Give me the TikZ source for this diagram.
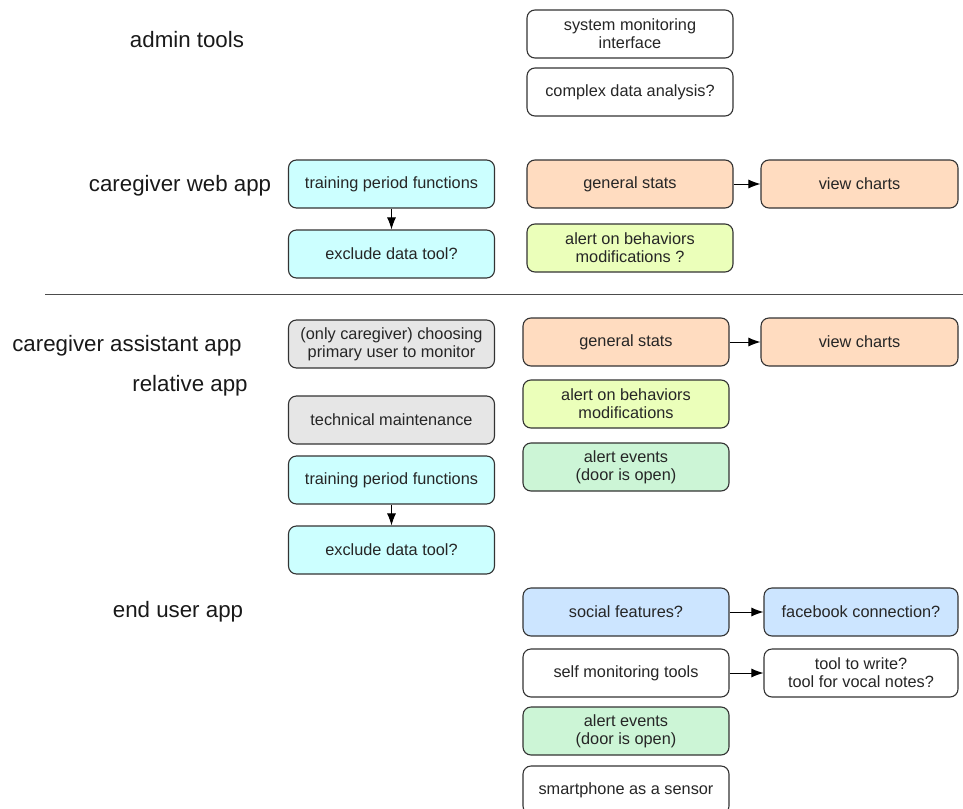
\documentclass[tikz,border=0pt]{standalone}
\usepackage{fontspec}
\setmainfont{Liberation Sans}
\usetikzlibrary{arrows.meta}
\definecolor{cyanf}{HTML}{CCFFFF}
\definecolor{orangef}{HTML}{FFDCC0}
\definecolor{limef}{HTML}{EBFFBA}
\definecolor{greenf}{HTML}{CCF5D6}
\definecolor{bluef}{HTML}{CCE5FF}
\definecolor{grayf}{HTML}{E6E6E6}
\definecolor{edgec}{HTML}{333333}
\begin{document}
\begin{tikzpicture}[x=1pt,y=-1pt,
  box/.style={draw=edgec,line width=1.1pt,rounded corners=8pt,align=center,
    font=\fontsize{16.3}{18}\selectfont,text=black!85,inner sep=0pt,
    minimum height=48pt},
  wl/.style={box,minimum width=206pt},
  wr/.style={box,minimum width=197pt},
  lab/.style={font=\fontsize{22.3}{25}\selectfont,text=black!90},
  arr/.style={-{Latex[length=12pt,width=9pt]},line width=1pt,draw=black}]
\useasboundingbox (0,0) rectangle (963,808);
\begin{scope}
\clip (0,0) rectangle (963,808);
% labels
\node[lab] (l1) at (187,40) {admin tools};
\node[lab] (l2) at (180,186) {caregiver web app};
\node[lab] (l3) at (127,346) {caregiver assistant app};
\node[lab] (l4) at (190,386) {relative app};
\node[lab] (l5) at (178,612) {end user app};
% separator
\coordinate (s1) at (45,294);
\coordinate (s2) at (963,294);
\draw[line width=1pt,draw=black!70] (s1) -- (s2);
% admin
\node[wl,fill=white] (a1) at (630,34) {system monitoring\\interface};
\node[wl,fill=white] (a2) at (630,92) {complex data analysis?};
% caregiver web
\node[wl,fill=cyanf] (w1) at (391.5,184) {training period functions};
\node[wl,fill=cyanf] (w2) at (391.5,254) {exclude data tool?};
\node[wl,fill=orangef] (w3) at (630,184) {general stats};
\node[wr,fill=orangef] (w4) at (859.5,184) {view charts};
\node[wl,fill=limef] (w5) at (630,248) {alert on behaviors\\modifications ?};
\draw[arr] (w1) -- (w2);
\draw[arr] (w3) -- (w4);
% caregiver assistant
\node[wl,fill=grayf] (c1) at (391.5,344) {(only caregiver) choosing\\primary user to monitor};
\node[wl,fill=grayf] (c2) at (391.5,420) {technical maintenance};
\node[wl,fill=cyanf] (c3) at (391.5,480) {training period functions};
\node[wl,fill=cyanf] (c4) at (391.5,550) {exclude data tool?};
\node[wl,fill=orangef] (c5) at (626,342) {general stats};
\node[wr,fill=orangef] (c6) at (859.5,342) {view charts};
\node[wl,fill=limef] (c7) at (626,404) {alert on behaviors\\modifications};
\node[wl,fill=greenf] (c8) at (626,467) {alert events\\(door is open)};
\draw[arr] (c3) -- (c4);
\draw[arr] (c5) -- (c6);
% end user
\node[wl,fill=bluef] (e1) at (626,612) {social features?};
\node[box,minimum width=194pt,fill=bluef] (e2) at (861,612) {facebook connection?};
\node[wl,fill=white] (e3) at (626,673) {self monitoring tools};
\node[box,minimum width=194pt,fill=white] (e4) at (861,673) {tool to write?\\tool for vocal notes?};
\node[wl,fill=greenf] (e5) at (626,731) {alert events\\(door is open)};
\node[wl,fill=white] (e6) at (626,790) {smartphone as a sensor};
\draw[arr] (e1) -- (e2);
\draw[arr] (e3) -- (e4);
\end{scope}
\end{tikzpicture}
\end{document}
